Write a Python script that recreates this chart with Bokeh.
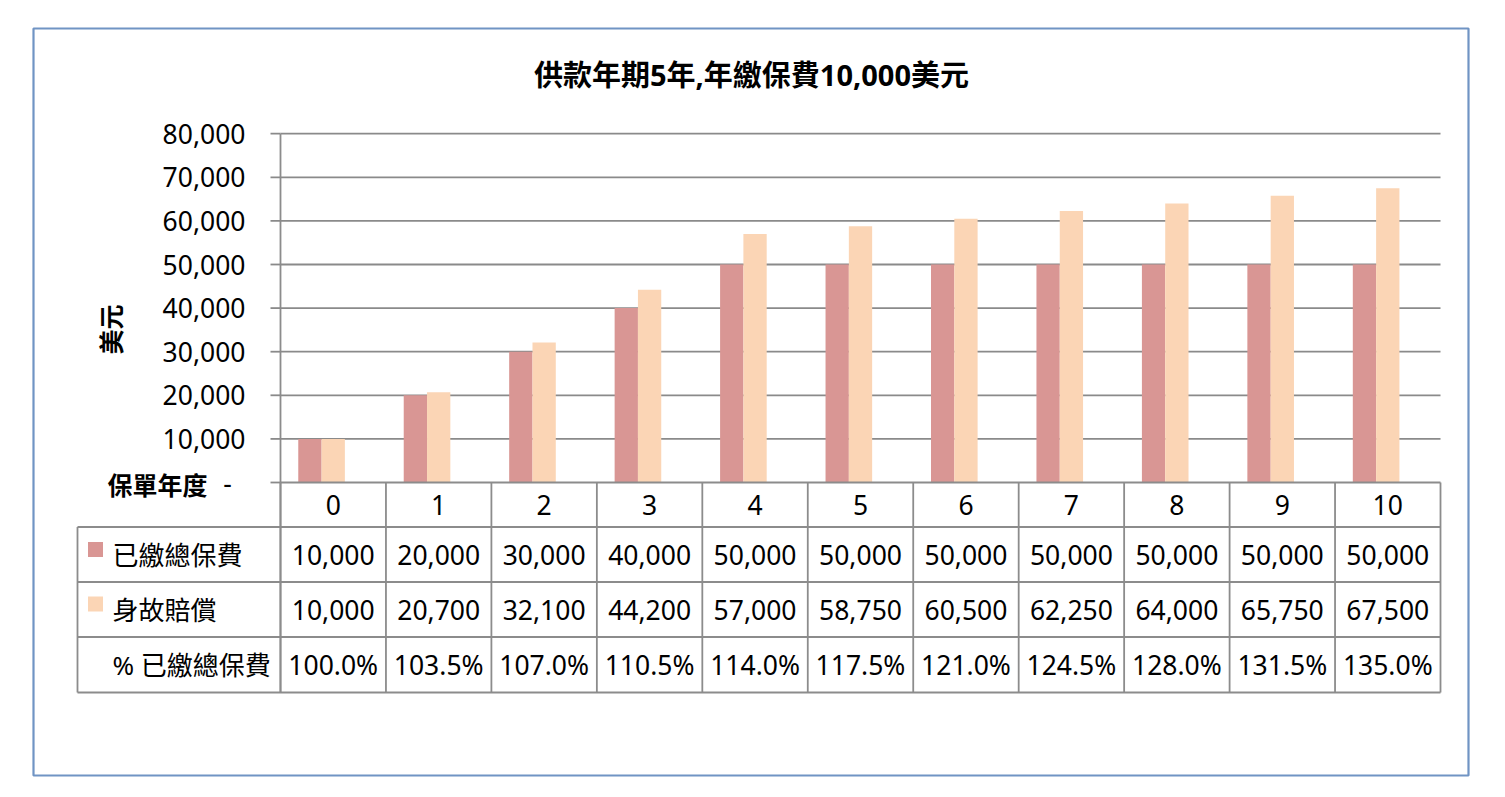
import math
from bokeh.plotting import figure
from bokeh.models import ColumnDataSource, Range1d
from bokeh.transform import dodge
from bokeh.core.properties import value
from bokeh.embed import file_html
from bokeh.resources import INLINE

# ---------------- data ----------------
title_text = "供款年期5年,年繳保費10,000美元"
y_axis_title = "美元"
x_axis_title = "保單年度"
years = [0, 1, 2, 3, 4, 5, 6, 7, 8, 9, 10]
year_labels = [str(y) for y in years]
series_names = ["已繳總保費", "身故賠償"]
paid = [10000, 20000, 30000, 40000, 50000, 50000, 50000, 50000, 50000, 50000, 50000]
death = [10000, 20700, 32100, 44200, 57000, 58750, 60500, 62250, 64000, 65750, 67500]
pct_row_name = "% 已繳總保費"
pct_labels = ["100.0%", "103.5%", "107.0%", "110.5%", "114.0%", "117.5%",
              "121.0%", "124.5%", "128.0%", "131.5%", "135.0%"]
y_ticks = [0, 10000, 20000, 30000, 40000, 50000, 60000, 70000, 80000]
y_tick_labels = ["-", "10,000", "20,000", "30,000", "40,000", "50,000",
                 "60,000", "70,000", "80,000"]
colors = ["#D99694", "#FBD5B5"]

# ---------------- layout (page pixels) ----------------
W, H = 1500, 792
OX, OY = 0, 0
PLOT_L, PLOT_R = 280, 1440
ZERO_Y = 482
PX_PER_VAL = 43.6 / 10000
n = len(years)
cat_w = (PLOT_R - PLOT_L) / n


def X(px):
    return (px - PLOT_L) / cat_w - 0.5


def Y(py):
    return (ZERO_Y - py) / PX_PER_VAL


FONT = value("Noto Sans, Noto Sans CJK TC")
NUM_SIZE = value("26.5px")
GRID_C = "#8a8a8a"
TBL_C = "#8c8c8c"

p = figure(width=W, height=H, x_range=Range1d(X(OX), X(OX + W)),
           y_range=Range1d(Y(OY + H), Y(OY)), output_backend="svg",
           toolbar_location=None, x_axis_location=None, y_axis_location=None,
           min_border=0, outline_line_color=None, background_fill_color="white",
           border_fill_color="white")
p.xgrid.visible = False
p.ygrid.visible = False

# chart border
p.quad(left=X(33), right=X(1468), top=Y(28), bottom=Y(775), fill_color=None,
       line_color="#7094C4", line_width=2.2)

# gridlines
xmin, xmax = years[0] - 0.5, years[-1] + 0.5
grid_vals = y_ticks[1:]
p.segment(x0=[xmin] * len(grid_vals), x1=[xmax] * len(grid_vals), y0=grid_vals,
          y1=grid_vals, line_color=GRID_C, line_width=1.8)

# bars
src = ColumnDataSource(dict(year=years, paid=paid, death=death))
BAR_W = 0.221
p.vbar(x=dodge("year", -BAR_W, range=p.x_range), top="paid", bottom=0, width=BAR_W,
       source=src, fill_color=colors[0], line_color=None)
p.vbar(x=dodge("year", 0.0, range=p.x_range), top="death", bottom=0, width=BAR_W,
       source=src, fill_color=colors[1], line_color=None)

# y axis line, ticks
p.segment(x0=[xmin], x1=[xmin], y0=[y_ticks[-1]], y1=[Y(692)], line_color=TBL_C,
          line_width=1.8)
p.segment(x0=[X(270)] * len(y_ticks), x1=[xmin] * len(y_ticks), y0=y_ticks, y1=y_ticks,
          line_color=GRID_C, line_width=1.8)
p.text(x=[X(245)] * (len(y_ticks) - 1), y=y_ticks[1:], text=y_tick_labels[1:],
       text_font=FONT, text_font_size=NUM_SIZE, text_align="right",
       text_baseline="middle", text_color="#000000")
p.text(x=[X(227)], y=[y_ticks[0]], text=[y_tick_labels[0]], text_font=FONT,
       text_font_size=NUM_SIZE, text_align="center", text_baseline="middle",
       text_color="#000000")

# axis titles
p.text(x=[X(107)], y=[Y(484)], text=[x_axis_title], text_font=FONT,
       text_font_size=value("25px"), text_font_style="bold", text_align="left",
       text_baseline="middle", text_color="#000000")
p.text(x=[X(110)], y=[Y(329)], text=[y_axis_title], text_font=FONT,
       text_font_size=value("25px"), text_font_style="bold", text_align="center",
       text_baseline="middle", angle=math.pi / 2, text_color="#000000")

# title
p.text(x=[X(751)], y=[Y(74)], text=[title_text], text_font=FONT,
       text_font_size=value("29px"), text_font_style="bold", text_align="center",
       text_baseline="middle", text_color="#000000")

# data table lines
row_lines = [526.5, 581.5, 636.5, 692]
p.segment(x0=[xmin], x1=[xmax], y0=[0], y1=[0], line_color=TBL_C, line_width=1.8)
p.segment(x0=[X(77)] * len(row_lines), x1=[xmax] * len(row_lines),
          y0=[Y(r) for r in row_lines], y1=[Y(r) for r in row_lines],
          line_color=TBL_C, line_width=1.8)
bounds = [y - 0.5 for y in years] + [years[-1] + 0.5]
p.segment(x0=bounds, x1=bounds, y0=[0] * len(bounds), y1=[Y(692)] * len(bounds),
          line_color=TBL_C, line_width=1.8)
p.segment(x0=[X(77)], x1=[X(77)], y0=[Y(526.5)], y1=[Y(692)], line_color=TBL_C,
          line_width=1.8)

# table text
row_centers = [504, 554, 609, 664]
p.text(x=years, y=[Y(row_centers[0])] * n, text=year_labels, text_font=FONT,
       text_font_size=NUM_SIZE, text_align="center", text_baseline="middle",
       text_color="#000000")
p.text(x=years, y=[Y(row_centers[1])] * n, text=[f"{v:,}" for v in paid],
       text_font=FONT, text_font_size=NUM_SIZE, text_align="center",
       text_baseline="middle", text_color="#000000")
p.text(x=years, y=[Y(row_centers[2])] * n, text=[f"{v:,}" for v in death],
       text_font=FONT, text_font_size=NUM_SIZE, text_align="center",
       text_baseline="middle", text_color="#000000")
p.text(x=years, y=[Y(row_centers[3])] * n, text=pct_labels, text_font=FONT,
       text_font_size=NUM_SIZE, text_align="center", text_baseline="middle",
       text_color="#000000")

# table row headers with legend keys
p.rect(x=[X(95), X(95)], y=[Y(549), Y(603.5)], width=15, height=15,
       width_units="screen", height_units="screen", fill_color=colors,
       line_color=None)
p.text(x=[X(112), X(112), X(112)], y=[Y(c) for c in row_centers[1:]],
       text=series_names + [pct_row_name], text_font=FONT,
       text_font_size=value("26px"), text_align="left", text_baseline="middle",
       text_color="#000000")

open("out.html", "w").write(file_html(p, INLINE))
